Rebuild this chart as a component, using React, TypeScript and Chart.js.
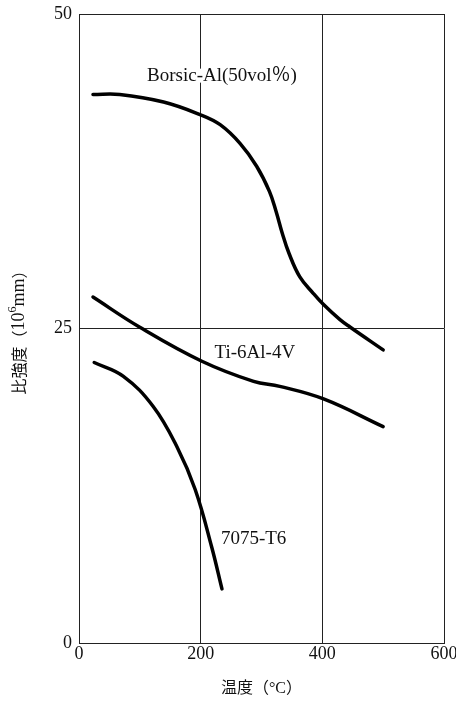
import React, { useEffect, useRef } from "react";
import { Chart, registerables } from "chart.js";

Chart.register(...registerables);

// Temperature (°C) and specific strength (10^6 mm)
const borsicT = [23, 67, 139, 199, 232, 265, 292, 313, 324, 334, 345, 363, 385, 402, 429, 446, 500];
const borsicV = [43.6, 43.6, 43.0, 42.0, 41.2, 39.7, 37.9, 35.9, 34.3, 32.6, 31.0, 29.1, 27.8, 26.9, 25.7, 25.1, 23.3];
const tiT = [23, 100, 202, 287, 330, 402, 500];
const tiV = [27.5, 25.1, 22.4, 20.8, 20.4, 19.4, 17.2];
const alT = [25, 73, 122, 161, 191, 218, 235];
const alV = [22.3, 21.2, 18.8, 15.6, 12.2, 7.65, 4.3];

const seriesNames = ["Borsic-Al(50vol％)", "Ti-6Al-4V", "7075-T6"];
const labelT = [235, 289, 287];
const labelV = [45.1, 23.05, 8.24];

const xTicks = [0, 200, 400, 600];
const yTicks = [0, 25, 50];
const xTitle = "温度（°C）";
const yTitleMain = "比強度";
const yTitleUnitBase = "10";
const yTitleUnitExp = "6";
const yTitleUnitTail = "mm";

const SERIF = '"Liberation Serif", "DejaVu Serif", serif';
const FONT = '"Liberation Serif", "DejaVu Serif", "Noto Sans CJK JP", serif';
const CJK = '"Noto Sans CJK JP", "Noto Sans CJK SC", sans-serif';

const toPts = (t: number[], v: number[]) => t.map((x, i) => ({ x, y: v[i] }));

export default function App() {
  const ref = useRef<HTMLCanvasElement | null>(null);

  useEffect(() => {
    document.body.style.margin = "0";
    const canvas = ref.current;
    if (!canvas) return;

    const labelPlugin = {
      id: "curveLabels",
      afterDatasetsDraw(chart: any) {
        const { ctx, scales, chartArea } = chart;
        const x = scales.x;
        const y = scales.y;
        ctx.save();
        ctx.font = `19px ${FONT}`;
        ctx.textAlign = "center";
        ctx.textBaseline = "middle";
        seriesNames.forEach((name, i) => {
          const px = x.getPixelForValue(labelT[i]);
          const py = y.getPixelForValue(labelV[i]);
          const w = ctx.measureText(name).width;
          ctx.fillStyle = "#ffffff";
          ctx.fillRect(px - w / 2 - 1, py - 7, w + 2, 14);
          ctx.fillStyle = "#111111";
          ctx.fillText(name, px, py);
        });
        ctx.restore();

        // y-axis title with a true superscript
        const parts = [
          { t: yTitleMain, f: `16px ${CJK}`, dy: 0 },
          { t: "（", f: `16px ${CJK}`, dy: 0 },
          { t: yTitleUnitBase, f: `18px ${SERIF}`, dy: 0 },
          { t: yTitleUnitExp, f: `12px ${SERIF}`, dy: -6 },
          { t: yTitleUnitTail, f: `18px ${SERIF}`, dy: 0 },
          { t: "）", f: `16px ${CJK}`, dy: 0 },
        ];
        ctx.save();
        let total = 0;
        const widths = parts.map((p) => {
          ctx.font = p.f;
          const w = ctx.measureText(p.t).width;
          total += w;
          return w;
        });
        const cy = (chartArea.top + chartArea.bottom) / 2;
        ctx.translate(19, cy);
        ctx.rotate(-Math.PI / 2);
        ctx.fillStyle = "#111111";
        ctx.textBaseline = "middle";
        ctx.textAlign = "left";
        let cx = -total / 2;
        parts.forEach((p, i) => {
          ctx.font = p.f;
          ctx.fillText(p.t, cx, p.dy);
          cx += widths[i];
        });
        ctx.restore();
      },
    };

    const mk = (t: number[], v: number[]) => ({
      data: toPts(t, v),
      borderColor: "#000000",
      borderWidth: 3.5,
      pointRadius: 0,
      fill: false,
      tension: 0.4,
      borderCapStyle: "round" as const,
      borderJoinStyle: "round" as const,
    });

    const chart = new Chart(canvas, {
      type: "line",
      data: {
        datasets: [mk(borsicT, borsicV), mk(tiT, tiV), mk(alT, alV)],
      },
      plugins: [labelPlugin],
      options: {
        animation: false,
        responsive: false,
        maintainAspectRatio: false,
        layout: { padding: { top: 14, right: 12, left: 0, bottom: 0 } },
        plugins: { legend: { display: false }, tooltip: { enabled: false } },
        scales: {
          x: {
            type: "linear",
            min: 0,
            max: 600,
            afterBuildTicks: (s: any) => {
              s.ticks = xTicks.map((v) => ({ value: v }));
            },
            afterFit: (s: any) => {
              s.height = 58;
              s.paddingLeft = 0;
              s.paddingRight = 0;
              s.paddingTop = 0;
              s.paddingBottom = 0;
            },
            grid: { color: "#222222", lineWidth: 1, drawTicks: false },
            border: { display: true, color: "#222222", width: 1 },
            ticks: {
              color: "#111111",
              font: { family: FONT, size: 18 },
              padding: 0,
              maxRotation: 0,
            },
            title: {
              display: true,
              text: xTitle,
              color: "#111111",
              font: { family: FONT, size: 16 },
              padding: { top: 0, bottom: 3 },
            },
          },
          y: {
            type: "linear",
            min: 0,
            max: 50,
            afterBuildTicks: (s: any) => {
              s.ticks = yTicks.map((v) => ({ value: v }));
            },
            afterFit: (s: any) => {
              s.width = 79;
              s.paddingLeft = 0;
              s.paddingRight = 0;
              s.paddingTop = 0;
              s.paddingBottom = 0;
            },
            grid: { color: "#222222", lineWidth: 1, drawTicks: false },
            border: { display: true, color: "#222222", width: 1 },
            ticks: {
              color: "#111111",
              font: { family: FONT, size: 18 },
              padding: 7,
            },
            title: { display: false },
          },
        },
      },
    });

    return () => chart.destroy();
  }, []);

  return (
    <div style={{ width: 456, height: 701, background: "#ffffff" }}>
      <canvas ref={ref} width={456} height={701} style={{ display: "block" }} />
    </div>
  );
}
